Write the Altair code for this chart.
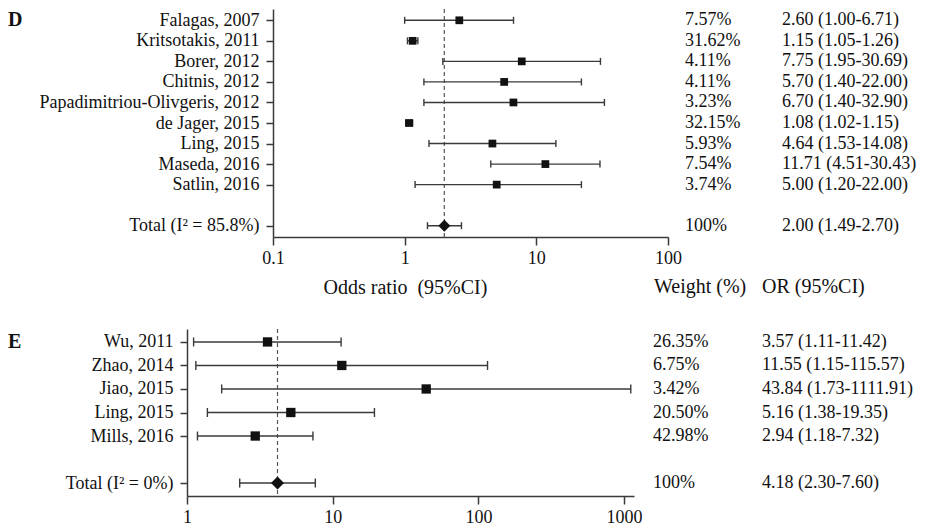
import altair as alt
import pandas as pd

# ---------------- Panel D data ----------------
d_studies = ["Falagas, 2007", "Kritsotakis, 2011", "Borer, 2012", "Chitnis, 2012",
             "Papadimitriou-Olivgeris, 2012", "de Jager, 2015", "Ling, 2015",
             "Maseda, 2016", "Satlin, 2016"]
d_or = [2.60, 1.15, 7.75, 5.70, 6.70, 1.08, 4.64, 11.71, 5.00]
d_lo = [1.00, 1.05, 1.95, 1.40, 1.40, 1.02, 1.53, 4.51, 1.20]
d_hi = [6.71, 1.26, 30.69, 22.00, 32.90, 1.15, 14.08, 30.43, 22.00]
d_weight = [7.57, 31.62, 4.11, 4.11, 3.23, 32.15, 5.93, 7.54, 3.74]
d_total_label = "Total (I\u00b2 = 85.8%)"
d_total = [2.00, 1.49, 2.70]
d_ticks = [0.1, 1, 10, 100]

# ---------------- Panel E data ----------------
e_studies = ["Wu, 2011", "Zhao, 2014", "Jiao, 2015", "Ling, 2015", "Mills, 2016"]
e_or = [3.57, 11.55, 43.84, 5.16, 2.94]
e_lo = [1.11, 1.15, 1.73, 1.38, 1.18]
e_hi = [11.42, 115.57, 1111.91, 19.35, 7.32]
e_weight = [26.35, 6.75, 3.42, 20.50, 42.98]
e_total_label = "Total (I\u00b2 = 0%)"
e_total = [4.18, 2.30, 7.60]
e_ticks = [1, 10, 100, 1000]

FONT = "Liberation Serif"
INK = "#111111"
LINE = "#3a3a3a"


def fmt_w(w):
    return "100%" if w == 100 else f"{w:.2f}%"


def panel(letter, studies, ors, los, his, weights, total_label, total, ticks,
          xdomain, width, plot_left, height, pad, wt_dx, or_dx,
          sq_size, dia_size, cap, title=None, title_x=0, headers=None):
    rows = []
    for s, o, l, h, w in zip(studies, ors, los, his, weights):
        rows.append(dict(study=s, orv=o, lo=l, hi=h, wt=fmt_w(w),
                         ortxt=f"{o:.2f} ({l:.2f}-{h:.2f})", kind="study"))
    rows.append(dict(study=total_label, orv=total[0], lo=total[1], hi=total[2],
                     wt=fmt_w(100),
                     ortxt=f"{total[0]:.2f} ({total[1]:.2f}-{total[2]:.2f})",
                     kind="total"))
    df = pd.DataFrame(rows)
    ydomain = studies + [" "] + [total_label]

    xscale = alt.Scale(type="log", domain=xdomain, nice=False,
                       range=[plot_left, width])
    axis_kw = dict(values=ticks, format="~g", tickSize=8, labelPadding=4,
                   domainWidth=1.5, tickWidth=1.5, labelFontSize=18,
                   labelFlush=False)
    if title:
        xaxis = alt.Axis(title=title, titleX=title_x, titleY=56, titleAlign="center",
                         titleBaseline="alphabetic", titleFontSize=20,
                         titleFontWeight="normal", titleFont=FONT,
                         titleColor=INK, **axis_kw)
    else:
        xaxis = alt.Axis(title=None, **axis_kw)
    yscale = alt.Scale(type="point", domain=ydomain, padding=pad)
    yaxis = alt.Axis(values=studies + [total_label], title=None, tickSize=7,
                     labelPadding=7, domainWidth=1.5, tickWidth=1.5,
                     labelFontSize=18, labelLimit=400, offset=-plot_left)

    def X(field):
        return alt.X(field, scale=xscale, axis=xaxis)

    Y = alt.Y("study:N", scale=yscale, axis=yaxis, sort=ydomain)

    base = alt.Chart(df)
    tot = base.transform_filter(alt.datum.kind == "total")
    stu = base.transform_filter(alt.datum.kind == "study")

    ref = tot.mark_rule(strokeDash=[4, 3], color="#555555", strokeWidth=1.2).encode(x=X("orv:Q"))
    ci = base.mark_rule(color=LINE, strokeWidth=1.4).encode(x=X("lo:Q"), x2="hi:Q", y=Y)
    cap_lo = base.mark_tick(color=LINE, thickness=1.4, size=cap, opacity=1).encode(x=X("lo:Q"), y=Y)
    cap_hi = base.mark_tick(color=LINE, thickness=1.4, size=cap, opacity=1).encode(x=X("hi:Q"), y=Y)
    sq = stu.mark_square(size=sq_size, color=INK, filled=True, opacity=1).encode(x=X("orv:Q"), y=Y)
    dia = tot.mark_point(shape="diamond", size=dia_size, color=INK, filled=True,
                         opacity=1).encode(x=X("orv:Q"), y=Y)
    wt = base.mark_text(align="left", baseline="middle", font=FONT, fontSize=18,
                        color=INK).encode(x=alt.value(wt_dx), y=Y, text="wt:N")
    ortx = base.mark_text(align="left", baseline="middle", font=FONT, fontSize=18,
                          color=INK).encode(x=alt.value(or_dx), y=Y, text="ortxt:N")
    lab = alt.Chart(pd.DataFrame({"study": [studies[0]], "lab": [letter]})).mark_text(
        align="left", baseline="middle", font=FONT, fontSize=20, fontWeight="bold",
        color=INK).encode(x=alt.value(-179), y=Y, text="lab:N")

    layers = [ref, ci, cap_lo, cap_hi, sq, dia, wt, ortx, lab]
    if headers:
        hdf = pd.DataFrame({"h": [headers[0]]})
        h1 = alt.Chart(hdf).mark_text(align="left", baseline="alphabetic", font=FONT,
                                      fontSize=20, color=INK).encode(
            x=alt.value(467), y=alt.value(284), text="h:N")
        hdf2 = pd.DataFrame({"h": [headers[1]]})
        h2 = alt.Chart(hdf2).mark_text(align="left", baseline="alphabetic", font=FONT,
                                       fontSize=20, color=INK).encode(
            x=alt.value(575), y=alt.value(284), text="h:N")
        layers += [h1, h2]
    return alt.layer(*layers).properties(width=width, height=height)


# both panels share the group origin at the E panel's y-axis; D's plot starts further right
chart_d = panel("D", d_studies, d_or, d_lo, d_hi, d_weight, d_total_label, d_total,
                d_ticks, [0.1, 100], 481, 86, 228, 0.55, 498, 595, 60, 144, 7,
                title="Odds ratio\u00a0 (95%CI)", title_x=218,
                headers=["Weight (%)", "OR (95%CI)"])
chart_e = panel("E", e_studies, e_or, e_lo, e_hi, e_weight, e_total_label, e_total,
                e_ticks, [1, 1170], 447, 0, 167, 0.55, 466, 575, 87, 170, 9)

chart = alt.vconcat(chart_d, chart_e, spacing=31).properties(
    padding={"left": 8, "top": 8, "right": 5, "bottom": 5}
).configure_view(stroke=None).configure_axis(
    labelFont=FONT, labelColor=INK, domainColor=LINE, tickColor=LINE, grid=False
)

chart.save("out.html", embed_options={"renderer": "svg", "actions": False})
